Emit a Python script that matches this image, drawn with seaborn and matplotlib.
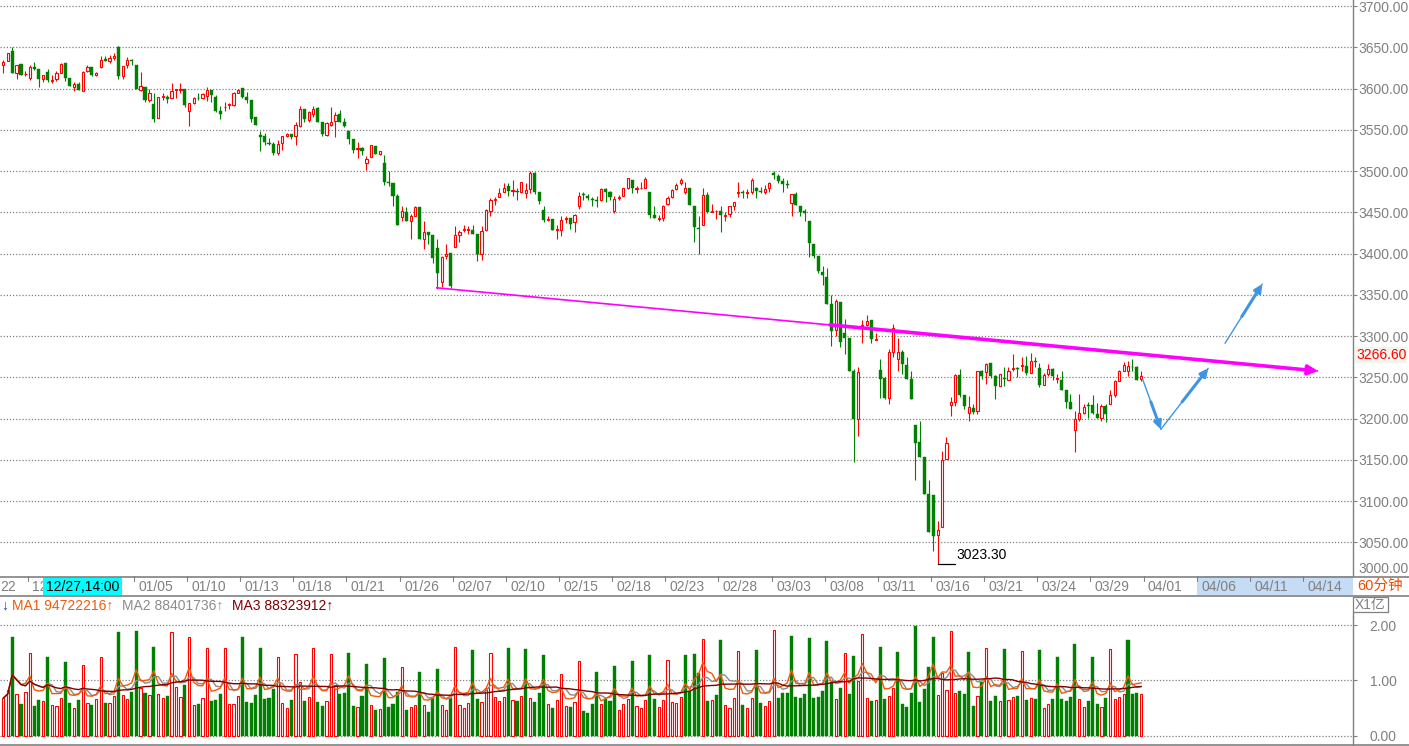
import numpy as np
import pandas as pd
import matplotlib
matplotlib.use("Agg")
import matplotlib.pyplot as plt
from matplotlib.lines import Line2D
from matplotlib.patches import Rectangle
import seaborn as sns

sns.set_theme(style="white")
plt.rcParams['font.family'] = ['Liberation Sans', 'DejaVu Sans', 'Noto Sans CJK SC']
plt.rcParams['axes.unicode_minus'] = False

# ---------------- data (60-minute bars) ----------------
opens = [
    3628, 3633, 3646, 3619, 3630, 3617, 3613, 3626, 3624, 3612,
    3620, 3609, 3611, 3619, 3631, 3613, 3602, 3606, 3597, 3621,
    3626, 3616, 3626, 3636, 3633, 3637, 3650, 3615, 3628, 3635,
    3628, 3598, 3602, 3586, 3581, 3564, 3590, 3590, 3589, 3598,
    3598, 3600, 3573, 3583, 3589, 3589, 3591, 3598, 3590, 3573,
    3577, 3580, 3580, 3594, 3601, 3590, 3586, 3565, 3544, 3542,
    3534, 3533, 3522, 3534, 3543, 3545, 3543, 3555, 3575, 3562,
    3569, 3576, 3560, 3544, 3556, 3561, 3569, 3559, 3548, 3539,
    3527, 3528, 3510, 3517, 3530, 3521, 3510, 3487, 3485, 3470,
    3444, 3450, 3439, 3446, 3456, 3417, 3426, 3422, 3407, 3365,
    3397, 3401, 3408, 3423, 3428, 3429, 3428, 3424, 3399, 3428,
    3452, 3465, 3468, 3474, 3482, 3476, 3476, 3474, 3473, 3478,
    3498, 3475, 3453, 3441, 3442, 3429, 3429, 3442, 3443, 3438,
    3458, 3472, 3470, 3466, 3465, 3465, 3478, 3475, 3452, 3467,
    3470, 3480, 3489, 3478, 3479, 3480, 3474, 3447, 3442, 3443,
    3460, 3468, 3478, 3485, 3475, 3480, 3457, 3431, 3435, 3471,
    3450, 3451, 3451, 3446, 3448, 3458, 3473, 3474, 3473, 3474,
    3479, 3476, 3475, 3479, 3497, 3494, 3488, 3484, 3461, 3472,
    3457, 3451, 3439, 3411, 3397, 3378, 3372, 3339, 3307, 3341,
    3304, 3298, 3258, 3199, 3312, 3313, 3319, 3295, 3259, 3249,
    3225, 3281, 3272, 3281, 3265, 3248, 3192, 3171, 3153, 3108,
    3107, 3059, 3068, 3151, 3216, 3220, 3253, 3228, 3207, 3213,
    3209, 3258, 3256, 3267, 3251, 3239, 3249, 3247, 3260, 3261,
    3264, 3264, 3255, 3270, 3261, 3241, 3254, 3260, 3248, 3247,
    3234, 3220, 3186, 3199, 3207, 3216, 3216, 3206, 3201, 3215,
    3218, 3228, 3246, 3258, 3257, 3263, 3262, 3248,
]
highs = [
    3634, 3643, 3650, 3629, 3630, 3621, 3629, 3632, 3624, 3616,
    3624, 3616, 3621, 3631, 3631, 3613, 3608, 3608, 3621, 3628,
    3626, 3620, 3639, 3639, 3641, 3643, 3652, 3627, 3638, 3636,
    3628, 3620, 3602, 3600, 3594, 3590, 3595, 3592, 3607, 3599,
    3607, 3600, 3583, 3590, 3594, 3594, 3602, 3598, 3592, 3579,
    3584, 3582, 3596, 3599, 3601, 3596, 3586, 3566, 3549, 3546,
    3540, 3535, 3538, 3543, 3546, 3545, 3560, 3579, 3575, 3573,
    3579, 3577, 3560, 3559, 3577, 3571, 3574, 3564, 3548, 3539,
    3535, 3529, 3518, 3532, 3530, 3524, 3520, 3500, 3485, 3472,
    3457, 3456, 3448, 3457, 3456, 3439, 3426, 3422, 3417, 3397,
    3411, 3401, 3433, 3428, 3434, 3433, 3434, 3424, 3433, 3454,
    3467, 3468, 3479, 3485, 3485, 3489, 3479, 3487, 3485, 3500,
    3499, 3475, 3458, 3445, 3442, 3435, 3445, 3445, 3443, 3448,
    3474, 3474, 3472, 3468, 3470, 3480, 3479, 3476, 3470, 3471,
    3480, 3491, 3489, 3482, 3487, 3493, 3474, 3457, 3447, 3459,
    3470, 3478, 3486, 3491, 3487, 3480, 3457, 3446, 3480, 3474,
    3460, 3453, 3458, 3450, 3457, 3463, 3487, 3477, 3478, 3492,
    3481, 3481, 3483, 3487, 3500, 3496, 3491, 3489, 3472, 3475,
    3457, 3454, 3439, 3411, 3397, 3385, 3383, 3350, 3345, 3341,
    3321, 3298, 3260, 3262, 3319, 3326, 3319, 3304, 3272, 3250,
    3284, 3315, 3298, 3283, 3275, 3258, 3192, 3197, 3153, 3126,
    3107, 3076, 3161, 3178, 3226, 3254, 3260, 3228, 3227, 3217,
    3258, 3259, 3267, 3267, 3253, 3254, 3262, 3263, 3278, 3263,
    3275, 3276, 3280, 3274, 3267, 3255, 3266, 3261, 3254, 3257,
    3234, 3230, 3209, 3230, 3218, 3220, 3228, 3219, 3218, 3218,
    3235, 3247, 3259, 3268, 3270, 3272, 3264, 3258,
]
lows = [
    3619, 3633, 3619, 3612, 3616, 3615, 3610, 3622, 3602, 3608,
    3608, 3607, 3609, 3619, 3609, 3603, 3597, 3598, 3597, 3620,
    3615, 3615, 3625, 3633, 3631, 3635, 3611, 3611, 3625, 3629,
    3599, 3597, 3584, 3584, 3560, 3564, 3586, 3583, 3589, 3589,
    3594, 3578, 3555, 3581, 3586, 3587, 3585, 3584, 3571, 3563,
    3573, 3575, 3579, 3594, 3588, 3583, 3560, 3556, 3524, 3532,
    3532, 3520, 3520, 3526, 3541, 3539, 3532, 3553, 3559, 3559,
    3565, 3559, 3543, 3543, 3555, 3541, 3560, 3553, 3533, 3522,
    3516, 3519, 3501, 3517, 3521, 3520, 3483, 3482, 3457, 3434,
    3439, 3439, 3417, 3446, 3417, 3405, 3411, 3389, 3357, 3360,
    3393, 3358, 3408, 3414, 3426, 3424, 3424, 3391, 3392, 3427,
    3445, 3459, 3468, 3474, 3470, 3470, 3465, 3473, 3467, 3473,
    3472, 3460, 3438, 3439, 3429, 3417, 3421, 3437, 3430, 3426,
    3454, 3465, 3465, 3457, 3456, 3464, 3463, 3465, 3449, 3465,
    3470, 3478, 3473, 3473, 3478, 3479, 3443, 3443, 3439, 3439,
    3459, 3467, 3477, 3483, 3472, 3459, 3414, 3400, 3435, 3449,
    3450, 3442, 3426, 3440, 3444, 3453, 3469, 3467, 3467, 3472,
    3467, 3473, 3472, 3475, 3490, 3486, 3474, 3480, 3445, 3459,
    3445, 3439, 3396, 3395, 3376, 3362, 3339, 3288, 3300, 3287,
    3278, 3258, 3147, 3179, 3292, 3312, 3292, 3295, 3225, 3224,
    3218, 3274, 3258, 3254, 3248, 3224, 3126, 3153, 3108, 3063,
    3040, 3023.3, 3068, 3151, 3203, 3215, 3226, 3212, 3197, 3205,
    3205, 3248, 3242, 3249, 3224, 3239, 3240, 3247, 3258, 3250,
    3257, 3253, 3255, 3263, 3238, 3241, 3251, 3247, 3243, 3235,
    3213, 3212, 3160, 3197, 3206, 3201, 3206, 3201, 3197, 3196,
    3217, 3226, 3246, 3257, 3251, 3258, 3247, 3246,
]
closes = [
    3632, 3643, 3619, 3629, 3616, 3618, 3626, 3624, 3612, 3616,
    3610, 3610, 3619, 3630, 3613, 3603, 3606, 3598, 3620, 3626,
    3616, 3619, 3635, 3633, 3637, 3640, 3615, 3627, 3634, 3633,
    3599, 3603, 3586, 3595, 3563, 3590, 3591, 3587, 3597, 3599,
    3599, 3580, 3583, 3588, 3588, 3593, 3598, 3592, 3573, 3569,
    3578, 3581, 3594, 3598, 3590, 3586, 3563, 3556, 3541, 3535,
    3533, 3522, 3533, 3542, 3545, 3541, 3556, 3575, 3563, 3571,
    3575, 3560, 3545, 3558, 3560, 3568, 3560, 3555, 3539, 3526,
    3528, 3524, 3515, 3531, 3521, 3524, 3487, 3486, 3470, 3434,
    3451, 3439, 3445, 3456, 3417, 3426, 3422, 3394, 3376, 3396,
    3400, 3361, 3422, 3426, 3430, 3430, 3424, 3399, 3427, 3453,
    3465, 3466, 3473, 3480, 3476, 3477, 3474, 3487, 3477, 3498,
    3474, 3464, 3441, 3442, 3429, 3430, 3441, 3443, 3436, 3447,
    3470, 3471, 3467, 3465, 3464, 3478, 3474, 3469, 3466, 3469,
    3479, 3491, 3479, 3479, 3480, 3490, 3447, 3443, 3443, 3457,
    3467, 3477, 3483, 3489, 3479, 3459, 3432, 3430, 3471, 3450,
    3451, 3452, 3447, 3447, 3457, 3462, 3474, 3473, 3474, 3489,
    3476, 3475, 3478, 3485, 3495, 3488, 3484, 3483, 3472, 3459,
    3450, 3449, 3413, 3397, 3379, 3374, 3339, 3306, 3343, 3293,
    3298, 3258, 3200, 3256, 3313, 3318, 3296, 3296, 3248, 3225,
    3281, 3310, 3281, 3266, 3248, 3224, 3170, 3153, 3108, 3063,
    3058, 3065, 3150, 3170, 3220, 3253, 3228, 3215, 3214, 3208,
    3258, 3251, 3266, 3252, 3239, 3254, 3248, 3258, 3261, 3260,
    3265, 3255, 3270, 3269, 3241, 3253, 3260, 3251, 3249, 3235,
    3220, 3212, 3199, 3207, 3214, 3215, 3207, 3201, 3215, 3205,
    3228, 3245, 3258, 3265, 3264, 3262, 3247, 3251,
]
# volume in units of 1e8 (X1亿)
volumes = [
    0.68, 0.83, 1.79, 0.76, 0.57, 0.79, 1.50, 0.54, 0.65, 0.63,
    1.43, 0.56, 0.54, 0.68, 1.34, 0.59, 0.50, 0.65, 1.28, 0.59,
    0.56, 0.66, 1.42, 0.59, 0.59, 0.72, 1.87, 0.74, 0.66, 0.80,
    1.90, 0.87, 0.77, 0.74, 1.60, 0.76, 0.68, 0.72, 1.88, 0.88,
    0.70, 0.92, 1.79, 0.56, 0.57, 0.68, 1.59, 0.63, 0.65, 0.76,
    1.59, 0.57, 0.57, 0.72, 1.78, 0.61, 0.59, 0.74, 1.59, 0.66,
    0.68, 0.85, 1.43, 0.59, 0.50, 0.65, 1.48, 0.97, 0.63, 0.70,
    1.59, 0.61, 0.54, 0.63, 1.48, 0.92, 0.76, 0.77, 1.50, 0.54,
    0.52, 0.72, 1.30, 0.56, 0.47, 0.48, 1.41, 0.52, 0.57, 0.79,
    1.24, 0.47, 0.52, 0.56, 1.15, 0.56, 0.43, 0.68, 1.21, 0.56,
    0.47, 0.68, 1.61, 0.56, 0.50, 0.59, 1.55, 0.66, 0.61, 0.86,
    1.50, 0.70, 0.63, 0.70, 1.59, 0.65, 0.63, 0.72, 1.57, 0.68,
    0.61, 0.77, 1.46, 0.57, 0.50, 0.65, 1.12, 0.54, 0.52, 0.61,
    1.35, 0.45, 0.41, 0.57, 1.15, 0.57, 0.66, 0.63, 1.26, 0.47,
    0.57, 0.66, 1.35, 0.54, 0.50, 0.65, 1.46, 0.66, 0.52, 0.65,
    1.37, 0.61, 0.59, 0.70, 1.46, 0.81, 1.48, 1.13, 1.76, 0.63,
    0.65, 0.74, 1.73, 0.56, 0.51, 0.68, 1.53, 0.56, 0.50, 0.68,
    1.55, 0.59, 0.54, 0.63, 1.91, 0.68, 0.77, 0.77, 1.81, 0.70,
    0.68, 0.76, 1.77, 0.68, 0.70, 0.81, 1.72, 0.97, 0.66, 0.86,
    1.50, 0.76, 1.44, 0.99, 1.84, 0.68, 0.63, 0.65, 1.61, 0.66,
    0.72, 0.86, 1.52, 0.57, 0.52, 0.77, 1.99, 0.61, 0.85, 1.25,
    1.79, 0.74, 1.14, 0.83, 1.89, 0.77, 0.81, 0.76, 1.52, 0.54,
    0.72, 0.97, 1.59, 0.63, 0.72, 0.63, 1.57, 0.65, 0.70, 0.72,
    1.53, 0.65, 0.68, 0.66, 1.55, 0.51, 0.57, 0.66, 1.43, 0.66,
    0.63, 0.70, 1.66, 0.66, 0.52, 0.63, 1.43, 0.57, 0.52, 0.68,
    1.57, 0.66, 0.70, 0.76, 1.73, 0.76, 0.77, 0.76,
]
# volume bar colour per bar (r = up vs previous close, g = down)
vol_dir = ("rrgrgrrggr" "grrrggrgrr" "grrgrrgrrg" "grgrgrrgrr" "rgrrgrrggg"
           "rrrrgggggg" "ggrrrgrrgr" "rggrrrgggg" "rggrgrgggg" "rgrrgrgggr"
           "rgrrrrggrr" "rrrrgrgrgr" "gggrgrrrgr" "rggggrgggr" "rrgrrrggrr"
           "rrrrggggrg" "rggrrrrgrr" "ggrrrggggg" "ggggggggrg" "rggrrrgrgg"
           "rrgggggggg" "grrrrrgggg" "rgrggrgrrg" "rgrggrrggg" "gggrrgggrg"
           "rrrrgggr")

# visible date labels on the time strip (first two are partly hidden in the
# original: left edge and under the cursor box)
date_labels = ["22", "12", "01/05", "01/10", "01/13", "01/18", "01/21",
               "01/26", "02/07", "02/10", "02/15", "02/18", "02/23", "02/28",
               "03/03", "03/08", "03/11", "03/16", "03/21", "03/24", "03/29",
               "04/01", "04/06", "04/11", "04/14"]
date_bar = [-6, 6, 30, 42, 54, 66, 78, 90, 102, 114, 126, 138, 150, 162,
            174, 186, 198, 210, 222, 234, 246, 258, 270, 282, 294]

price_ticks = list(range(3050, 3701, 50))
vol_ticks = [0, 1, 2]
ma_periods = [5, 10, 20]
ma_header = ["MA1 94722216\u2191", "MA2 88401736\u2191", "MA3 88323912\u2191"]
last_price = 3266.60
low_price = 3023.30
cursor_label = "12/27,14:00"
cursor_bar = 18

# trend line (bar index, price) and forecast arrows
trend_pts = [(97.7, 3358.5), (186.7, 3313.5), (296.9, 3257.6)]
blue_arrows = [((257.3, 3247.5), (261.4, 3186.9)),
               ((261.4, 3186.9), (272.1, 3260.8)),
               ((275.9, 3291.2), (284.3, 3363.0))]

# ---------------- styling ----------------
RED = '#FF0000'
GREEN = '#008000'
GRAY = '#808080'
MAGENTA = '#FF00FF'
BLUE = '#3F95E4'
MA_COLORS = ['#F05A0A', '#8C8C8C', '#800000']

W, H = 1409, 746
fig = plt.figure(figsize=(W / 100, H / 100), dpi=100)
fig.patch.set_facecolor('white')


def box(x0, y0, x1, y1):
    return [x0 / W, 1 - y1 / H, (x1 - x0) / W, (y1 - y0) / H]


X0, X1 = -0.745, 304.8
ax_p = fig.add_axes(box(0, 0, 1353, 576))
ax_d = fig.add_axes(box(0, 576, 1353, 595.5))
ax_v = fig.add_axes(box(0, 617, 1353, 746))

o = np.array(opens, float)
h = np.array(highs, float)
l = np.array(lows, float)
c = np.array(closes, float)
v = np.array(volumes, float)
n = len(c)
idx = np.arange(n)
up = c >= o

# ---------------- price panel ----------------
ax_p.vlines(idx, l, h, colors=np.where(up, RED, GREEN), lw=0.8, zorder=2)
lo = np.minimum(o, c)
bh = np.maximum(np.abs(c - o), 0.6)
ax_p.bar(idx[up], bh[up], bottom=lo[up], width=0.5, facecolor='white',
         edgecolor=RED, linewidth=0.8, zorder=3)
ax_p.bar(idx[~up], bh[~up], bottom=lo[~up], width=0.7, facecolor=GREEN,
         edgecolor=GREEN, linewidth=0.3, zorder=3)

ax_p.set_xlim(X0, X1)
ax_p.set_ylim(3009.1, 3707.3)
ax_p.set_xticks([])
ax_p.yaxis.tick_right()
ax_p.set_yticks(price_ticks)
ax_p.set_yticklabels([f"{t:.2f}" for t in price_ticks])
ax_p.tick_params(axis='y', right=True, length=2.9, width=0.8, color=GRAY,
                 labelcolor=GRAY, pad=1, labelsize=10)
ax_p.grid(axis='y', color=GRAY, linestyle=(0, (1, 1.5)), lw=0.9)
ax_p.set_axisbelow(True)
for s in ['left', 'top', 'bottom']:
    ax_p.spines[s].set_visible(False)
ax_p.spines['right'].set_color(GRAY)
ax_p.spines['right'].set_linewidth(1.0)
ax_p.set_facecolor('white')

# trend line (thin then thick with arrow)
(tx0, ty0), (tx1, ty1), (tx2, ty2) = trend_pts
ax_p.plot([tx0, tx2], [ty0, ty2], color=MAGENTA, lw=1.2, zorder=6,
          solid_capstyle='butt')
ax_p.annotate('', xy=(tx2, ty2), xytext=(tx1, ty1),
              arrowprops=dict(arrowstyle='-|>', color=MAGENTA, lw=2.6,
                              mutation_scale=14, shrinkA=0, shrinkB=0),
              zorder=7)

# forecast arrows
for (a, b) in blue_arrows:
    ax_p.plot([a[0], b[0]], [a[1], b[1]], color=BLUE, lw=1.0, zorder=6)
    mid = (a[0] + 0.45 * (b[0] - a[0]), a[1] + 0.45 * (b[1] - a[1]))
    ax_p.annotate('', xy=b, xytext=mid,
                  arrowprops=dict(arrowstyle='-|>', color=BLUE, lw=2.2,
                                  mutation_scale=11, shrinkA=0, shrinkB=0),
                  zorder=7)

# low marker
imin = int(np.argmin(l))
ax_p.plot([imin, imin + 3.9], [low_price, low_price], color='black', lw=0.9,
          zorder=5)
ax_p.annotate(f"{low_price:.2f}", xy=(imin + 4.3, low_price), xytext=(0, 2),
              textcoords='offset points', ha='left', va='bottom',
              fontsize=10, color='black')

# ---------------- date strip ----------------
ax_d.set_xlim(X0, X1)
ax_d.set_ylim(0, 1)
ax_d.axis('off')
ax_d.add_patch(Rectangle((269.5, 0.02), X1 - 269.5, 0.96, facecolor='#C6DCF4',
                         edgecolor='none', zorder=0))
for pos, lab in zip(date_bar, date_labels):
    xt = pos - 0.5
    if xt > X0:
        ax_d.plot([xt, xt], [1, 0.72], color=GRAY, lw=0.8, zorder=2)
    ax_d.text(max(xt + 1.0, X0 + 0.1), 0.45, lab, color=GRAY, fontsize=10,
              ha='left', va='center', zorder=2)
ax_d.add_patch(Rectangle((cursor_bar - 9.0, 0.03), 17.8, 0.94,
                         facecolor='#00FFFF', edgecolor='none', zorder=5))
ax_d.text(cursor_bar - 0.1, 0.45, cursor_label, color='black', fontsize=10,
          ha='center', va='center', zorder=6)

# ---------------- volume panel ----------------
vd = np.array([ch == 'r' for ch in vol_dir])
ax_v.bar(idx[vd], v[vd], width=0.5, facecolor='white', edgecolor=RED,
         linewidth=0.8, zorder=3)
ax_v.bar(idx[~vd], v[~vd], width=0.7, facecolor=GREEN, edgecolor=GREEN,
         linewidth=0.3, zorder=3)

vs = pd.Series(v)
for per, col, z in zip(ma_periods, MA_COLORS, [6, 5, 7]):
    ma = vs.rolling(per, min_periods=1).mean()
    sns.lineplot(x=idx, y=ma.values, ax=ax_v, color=col, linewidth=1.0,
                 estimator=None, legend=False, zorder=z)
ax_v.set_xlabel('')
ax_v.set_ylabel('')
ax_v.set_xlim(X0, X1)
ax_v.set_ylim(-0.187, 2.15)
ax_v.set_xticks([])
ax_v.yaxis.tick_right()
ax_v.set_yticks(vol_ticks)
ax_v.set_yticklabels([f"{t:.2f}" for t in vol_ticks])
ax_v.tick_params(axis='y', right=True, length=2.9, width=0.8, color=GRAY,
                 labelcolor=GRAY, pad=9, labelsize=10)
ax_v.grid(axis='y', color=GRAY, linestyle=(0, (1, 1.5)), lw=0.9)
ax_v.set_axisbelow(True)
for s in ['left', 'top', 'bottom']:
    ax_v.spines[s].set_visible(False)
ax_v.spines['right'].set_color(GRAY)
ax_v.spines['right'].set_linewidth(1.0)

# ---------------- frame lines & side texts ----------------
for yy in [576.5, 595.5, 745]:
    fig.add_artist(Line2D([0, 1], [1 - yy / H, 1 - yy / H], color=GRAY,
                          lw=1.2, transform=fig.transFigure))
fig.add_artist(Line2D([1353 / W, 1353 / W], [1 - 612 / H, 1 - 617 / H],
                      color=GRAY, lw=1.0, transform=fig.transFigure))
fig.add_artist(Rectangle((1353 / W, 1 - 612 / H), 35 / W, 15 / H,
                         facecolor='none', edgecolor=GRAY, lw=0.9,
                         transform=fig.transFigure))
fig.text(1355 / W, 1 - 605 / H, "X1亿", color=GRAY, fontsize=10,
         va='center', ha='left',
         family=['Liberation Sans', 'Noto Sans CJK SC'])
fig.text(1357 / W, 1 - 586 / H, "60分钟", color='#F04A00', fontsize=10.5,
         va='center', ha='left',
         family=['Liberation Sans', 'Noto Sans CJK SC'])
fig.text(1356 / W, 1 - 355 / H, f"{last_price:.2f}", color=RED, fontsize=10,
         va='center', ha='left',
         bbox=dict(facecolor='#EEF6EE', edgecolor='none', pad=0.8))
fig.text(1358 / W, 1 - 569 / H, "3000.00", color=GRAY, fontsize=10,
         va='center', ha='left')

# volume header
fig.text(1 / W, 1 - 606 / H, "\u2193", color='#1F3F9F', fontsize=10,
         va='center', ha='left', family=['Liberation Sans', 'DejaVu Sans'])
for xpx, txt, col in zip([12, 122, 232], ma_header, MA_COLORS):
    fig.text(xpx / W, 1 - 606 / H, txt, color=col, fontsize=10,
             va='center', ha='left', family=['Liberation Sans', 'DejaVu Sans'])

fig.savefig('out.png', dpi=100, facecolor='white')
